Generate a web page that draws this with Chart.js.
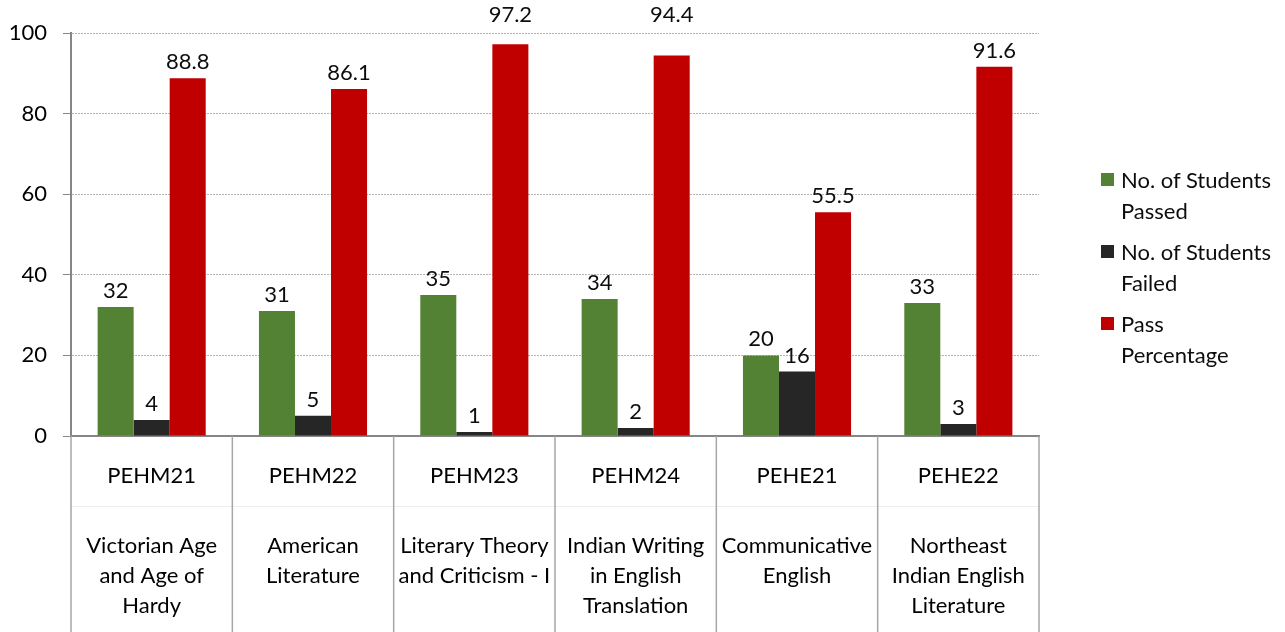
<!DOCTYPE html>
<html>
<head>
<meta charset="utf-8">
<script src="https://cdn.jsdelivr.net/npm/chart.js@4.4.0/dist/chart.umd.min.js"></script>
<style>
  body { margin: 0; background: #fff; }
  #wrap { position: relative; width: 1285px; height: 632px; }
  #legend { position: absolute; left: 1101px; top: 164px; font: 22px Lato, sans-serif; color: #0d0d0d; }
  .item { position: relative; padding-left: 20px; line-height: 31px; margin-bottom: 10px; }
  .box { position: absolute; left: 0; top: 9px; width: 13px; height: 13px; }
</style>
</head>
<body>
<div id="wrap">
  <canvas id="passChart" width="1285" height="632"></canvas>
  <div id="legend"></div>
</div>
<script>
const courseCodes = ["PEHM21", "PEHM22", "PEHM23", "PEHM24", "PEHE21", "PEHE22"];
const courseNames = [
    ["Victorian Age", "and Age of", "Hardy"],
    ["American", "Literature"],
    ["Literary Theory", "and Criticism - I"],
    ["Indian Writing", "in English", "Translation"],
    ["Communicative", "English"],
    ["Northeast", "Indian English", "Literature"]
];
const passedData = [32, 31, 35, 34, 20, 33];
const failedData = [4, 5, 1, 2, 16, 3];
const percentData = [88.8, 86.1, 97.2, 94.4, 55.5, 91.6];
const yTicks = [0, 20, 40, 60, 80, 100];

const labelFont = '22px Lato, sans-serif';

// value labels above each bar
const valueLabels = {
    id: 'valueLabels',
    afterDatasetsDraw(chart) {
        const ctx = chart.ctx;
        const top = chart.chartArea.top;
        ctx.save();
        ctx.font = labelFont;
        ctx.fillStyle = '#0d0d0d';
        ctx.textAlign = 'center';
        ctx.textBaseline = 'middle';
        chart.data.datasets.forEach((ds, i) => {
            chart.getDatasetMeta(i).data.forEach((bar, j) => {
                let y = bar.y - 16;
                // keep clear of the top gridline, like the original
                if (Math.abs(y - top) < 12) y = top - 18;
                ctx.fillText(String(ds.data[j]), bar.x, y);
            });
        });
        ctx.restore();
    }
};

// vertical separators between categories in the axis area
const separators = {
    id: 'separators',
    afterDraw(chart) {
        const x = chart.scales.x;
        const ctx = chart.ctx;
        ctx.save();
        ctx.strokeStyle = '#a6a6a6';
        ctx.lineWidth = 1.5;
        for (let i = 0; i <= courseCodes.length; i++) {
            const px = x.getPixelForValue(i - 0.5);
            ctx.beginPath();
            ctx.moveTo(px, x.top);
            ctx.lineTo(px, chart.height);
            ctx.stroke();
        }
        ctx.restore();
    }
};

const ctx = document.getElementById('passChart').getContext('2d');

const chart = new Chart(ctx, {
    type: 'bar',
    data: {
        labels: courseCodes,
        datasets: [
            { label: 'No. of Students Passed', data: passedData, backgroundColor: '#548235' },
            { label: 'No. of Students Failed', data: failedData, backgroundColor: '#262626' },
            { label: 'Pass Percentage', data: percentData, backgroundColor: '#c00000' }
        ]
    },
    options: {
        responsive: false,
        animation: false,
        events: [],
        layout: { padding: { top: 33, right: 246, left: 0, bottom: 0 } },
        datasets: { bar: { categoryPercentage: 0.67, barPercentage: 1.0 } },
        plugins: { legend: { display: false }, tooltip: { enabled: false } },
        scales: {
            x: {
                weight: 0,
                grid: { display: false, drawTicks: false },
                border: { display: true, color: '#868686', width: 2 },
                ticks: { color: '#000', font: { family: 'Lato', size: 22, lineHeight: '30px' }, padding: 25, maxRotation: 0, autoSkip: false },
                afterFit(scale) { scale.height = 70; }
            },
            x2: {
                type: 'category',
                position: 'bottom',
                weight: 1,
                offset: true,
                labels: courseNames,
                grid: { display: false, drawTicks: false },
                border: { display: true, color: '#eeeeee', width: 1 },
                ticks: { color: '#000', font: { family: 'Lato', size: 22, lineHeight: '30px' }, padding: 25, maxRotation: 0, autoSkip: false },
                afterFit(scale) { scale.height = 126; }
            },
            y: {
                min: 0,
                max: 100,
                afterBuildTicks(scale) { scale.ticks = yTicks.map(v => ({ value: v })); },
                grid: {
                    color: c => c.tick && c.tick.value === 0 ? 'rgba(0,0,0,0)' : '#b4b4b4',
                    tickColor: '#868686',
                    tickLength: 8,
                    tickBorderDash: [],
                    lineWidth: 1
                },
                border: { display: true, color: '#868686', width: 2, dash: [2, 1] },
                ticks: { color: '#000', font: { family: 'Lato', size: 22 }, padding: 16 },
                afterFit(scale) { scale.width = 71; }
            }
        }
    },
    plugins: [valueLabels, separators]
});

// legend with wrapped labels, built from the datasets
const legendEl = document.getElementById('legend');
ctx.font = labelFont;
const wrapWidth = Math.ceil(ctx.measureText('No. of Students').width) + 2;
chart.data.datasets.forEach(ds => {
    const item = document.createElement('div');
    item.className = 'item';
    item.style.width = wrapWidth + 'px';
    const box = document.createElement('span');
    box.className = 'box';
    box.style.background = ds.backgroundColor;
    item.appendChild(box);
    item.appendChild(document.createTextNode(ds.label));
    legendEl.appendChild(item);
});
</script>
</body>
</html>
